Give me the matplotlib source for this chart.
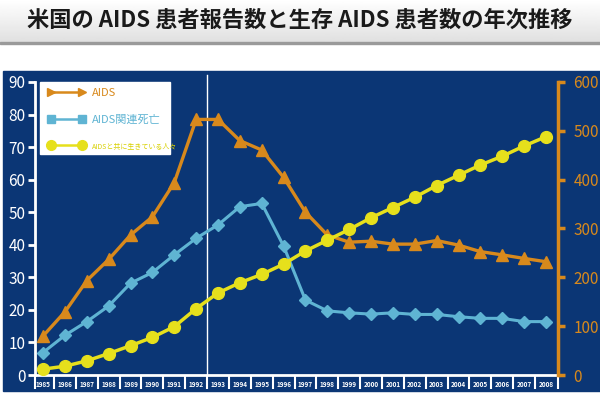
import numpy as np
import matplotlib
matplotlib.use("Agg")
import matplotlib.pyplot as plt
from matplotlib.lines import Line2D
from matplotlib.patches import Rectangle

plt.rcParams['font.family'] = ['Noto Sans CJK JP', 'DejaVu Sans']

years = list(range(1985, 2009))
# AIDS cases reported (left axis, thousands)
aids_cases = [12, 19.4, 29, 35.5, 43, 48.6, 59.1, 78.5, 78.5, 72, 69.1, 60.7,
              50, 43, 40.8, 41.1, 40.2, 40.2, 41.3, 39.9, 37.9, 36.9, 35.8, 34.8]
# AIDS related deaths (left axis, thousands)
aids_deaths = [6.9, 12.2, 16.4, 21.2, 28.2, 31.5, 36.9, 42, 46.1, 51.7, 52.7, 39.6,
               23, 19.7, 19.1, 18.7, 19.1, 18.6, 18.6, 17.9, 17.4, 17.4, 16.4, 16.4]
# people living with AIDS (right axis, thousands)
living = [12, 18, 29, 44, 60, 77, 99, 136, 168, 189, 206, 227,
          254, 276, 298, 322, 343, 364, 388, 409, 430, 448, 469, 488]

left_ticks = list(range(0, 91, 10))
right_ticks = list(range(0, 601, 100))
title = "米国の AIDS 患者報告数と生存 AIDS 患者数の年次推移"
legend_labels = ["AIDS", "AIDS関連死亡", "AIDSと共に生きている人々"]

W, H = 600, 395
BG = "#0b3675"
ORANGE = "#d8891c"
CYAN = "#5fb4d3"
YELLOW = "#e6e01c"

fig = plt.figure(figsize=(W / 100, H / 100), dpi=100)
fig.patch.set_facecolor("white")

def fx(px):
    return px / W

def fy(py):
    return (H - py) / H

# title band with soft gradient
band = fig.add_axes([0, fy(42), 1, 42 / H])
grad = np.linspace(1.0, 0.88, 50).reshape(-1, 1)
band.imshow(grad, aspect="auto", cmap="gray", vmin=0, vmax=1, extent=[0, 1, 0, 1])
band.set_axis_off()
fig.add_artist(Rectangle((0, fy(44)), 1, 2 / H, transform=fig.transFigure,
                         color="#9a9a9a", zorder=5))
fig.text(fx(300), fy(20), title, ha="center", va="center", fontsize=16,
         fontweight="bold", color="#1a1a1a")

# dark blue panel
fig.add_artist(Rectangle((fx(3), fy(391)), fx(597), (391 - 71) / H,
                         transform=fig.transFigure, color=BG, zorder=0))

ax = fig.add_axes([fx(35), fy(375), fx(558 - 35), (375 - 82) / H])
ax.set_facecolor("none")
ax.set_xlim(1984.63, 2008.55)
ax.set_ylim(0, 90)

ax.plot(years, aids_cases, color=ORANGE, lw=2.4, marker="^", ms=8.5, zorder=4)
ax.plot(years, aids_deaths, color=CYAN, lw=2.2, marker="D", ms=6.5, zorder=3)

ax2 = ax.twinx()
ax2.set_ylim(0, 600)
ax2.plot(years, living, color=YELLOW, lw=2.5, marker="o", ms=8.5, zorder=5)

ax.axvline(1992.5, color="white", lw=1, ymax=1.025, clip_on=False, zorder=2)

for s in ["top", "right"]:
    ax.spines[s].set_visible(False)
for s in ["top", "left", "bottom"]:
    ax2.spines[s].set_visible(False)
ax.spines["left"].set_color("white")
ax.spines["left"].set_linewidth(2)
ax.spines["bottom"].set_color("white")
ax.spines["bottom"].set_linewidth(2)
ax2.spines["right"].set_color(ORANGE)
ax2.spines["right"].set_linewidth(2.5)

ax.set_yticks(left_ticks)
ax.tick_params(axis="y", colors="white", labelsize=11, length=5, width=2, pad=2)
ax2.set_yticks(right_ticks)
ax2.tick_params(axis="y", colors=ORANGE, labelsize=11, length=5, width=2.5, pad=6)

ax.set_xticks(years)
ax.set_xticklabels([str(y) for y in years], fontsize=4.6, color="white",
                   fontweight="bold")
ax.tick_params(axis="x", which="major", length=0, pad=4)
seps = [1984.63] + [y + 0.5 for y in years[:-1]] + [2008.55]
ax.set_xticks(seps, minor=True)
ax.tick_params(axis="x", which="minor", length=10, width=1.5, color="white")

# legend on white box
fig.add_artist(Rectangle((fx(40), fy(154)), fx(130), (154 - 82) / H,
                         transform=fig.transFigure, color="white", zorder=6))
handles = [
    Line2D([], [], color=ORANGE, lw=1.8, marker=">", ms=6),
    Line2D([], [], color=CYAN, lw=1.8, marker="s", ms=6),
    Line2D([], [], color=YELLOW, lw=1.8, marker="o", ms=7),
]
leg = fig.legend(handles, legend_labels, loc="upper left",
                 bbox_to_anchor=(fx(40), fy(80)), frameon=False, numpoints=2,
                 fontsize=8, handlelength=3.4, labelspacing=1.5,
                 borderpad=0.2, handletextpad=0.6)
leg.set_zorder(7)
for t, c in zip(leg.get_texts(), [ORANGE, CYAN, "#d8d000"]):
    t.set_color(c)
leg.get_texts()[2].set_fontsize(5)

fig.savefig("out.png", dpi=100)
